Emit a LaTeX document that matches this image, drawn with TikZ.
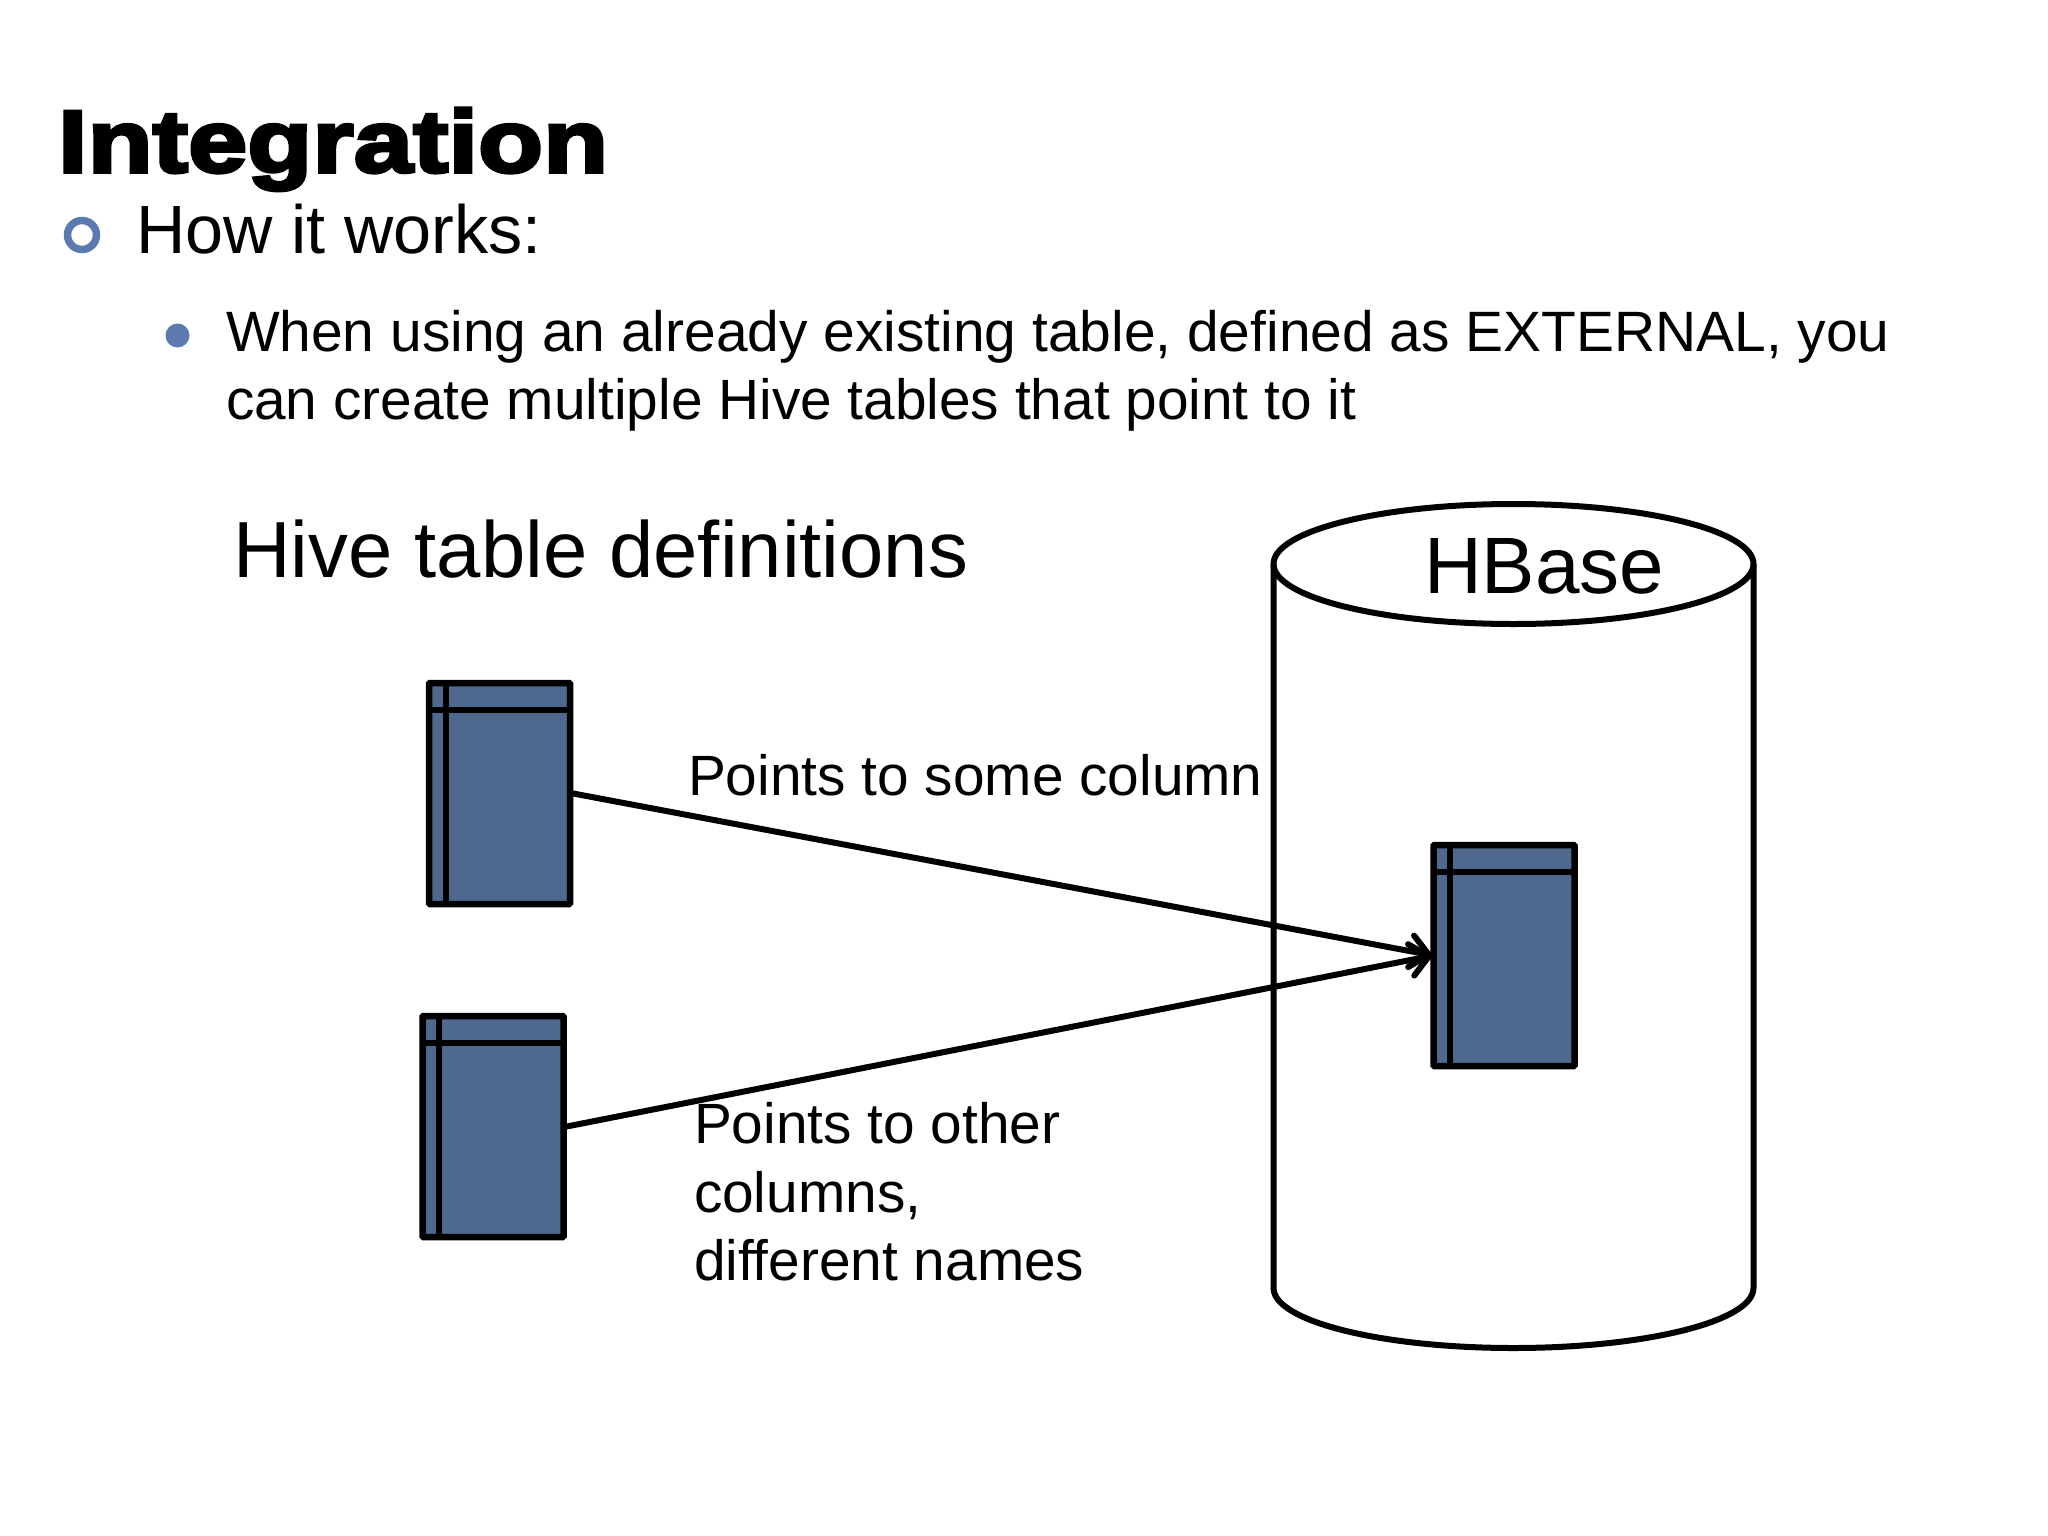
\documentclass[tikz,border=0pt]{standalone}
\usepackage{fontspec}
\usetikzlibrary{arrows.meta}
\setmainfont{Liberation Sans}
\newfontfamily\titlefont[BoldFeatures={FakeBold=4,FakeStretch=1.21}]{Liberation Sans}
\definecolor{tablefill}{HTML}{4E688E}
\definecolor{bulletblue}{HTML}{5B7BB0}
\newcommand{\fs}[1]{\fontsize{#1}{#1}\selectfont}
\tikzset{
  tablebox/.style={draw=black,fill=tablefill,line width=6.5pt,rounded corners=1pt,minimum width=141pt,minimum height=221pt,inner sep=0pt},
  sepline/.style={line width=6pt},
  txt/.style={anchor=base west,inner sep=0pt,outer sep=0pt,text=black},
  link/.style={line width=6pt,-{Straight Barb[length=18pt,width=32pt,line cap=round]},line cap=round},
  cyl/.style={line width=6pt,draw=black}
}
\begin{document}
\begin{tikzpicture}[x=1pt,y=-1pt]
\useasboundingbox (0,0) rectangle (2048,1536);
\fill[white] (0,0) rectangle (2048,1536);
% title and bullets
\node[txt] (title) at (58,172) {\titlefont\bfseries\fs{88}Integration};
\node[circle,draw=bulletblue,line width=7.5pt,fill=white,minimum size=29pt,inner sep=0pt] (b1) at (82,235) {};
\node[txt] (l1) at (136,253) {\fs{68.3}How it works:};
\node[circle,fill=bulletblue,minimum size=24pt,inner sep=0pt] (b2) at (177.5,335.5) {};
\node[txt] (l2) at (226,351.5) {\fs{56.9}When using an already existing table, defined as EXTERNAL, you};
\node[txt] (l3) at (226,419.5) {\fs{56.8}can create multiple Hive tables that point to it};
\node[txt] (hive) at (233.5,577) {\fs{79.6}Hive table definitions};
% cylinder
\draw[cyl,line join=round] (1273.5,564) -- (1273.5,1288) arc[start angle=180,end angle=0,x radius=240,y radius=60] -- (1753.5,564);
\draw[cyl] (1513.5,564) ellipse[x radius=240,y radius=60];
\node[txt] (hbase) at (1424,593.5) {\fs{80}HBase};
% tables
\node[tablebox] (t1) at (499.5,793.5) {};
\draw[sepline] ([xshift=20pt]t1.north west) -- ([xshift=20pt]t1.south west);
\draw[sepline] ([xshift=3pt,yshift=-30pt]t1.north west) -- ([xshift=-3pt,yshift=-30pt]t1.north east);
\node[tablebox] (t2) at (493,1126.5) {};
\draw[sepline] ([xshift=20pt]t2.north west) -- ([xshift=20pt]t2.south west);
\draw[sepline] ([xshift=3pt,yshift=-30pt]t2.north west) -- ([xshift=-3pt,yshift=-30pt]t2.north east);
\node[tablebox] (t3) at (1504,955.5) {};
\draw[sepline] ([xshift=20pt]t3.north west) -- ([xshift=20pt]t3.south west);
\draw[sepline] ([xshift=3pt,yshift=-30pt]t3.north west) -- ([xshift=-3pt,yshift=-30pt]t3.north east);
% connectors
\draw[link] (t1.east) -- ([xshift=3pt]t3.west);
\draw[link] (t2.east) -- ([xshift=3pt]t3.west);
% labels
\node[txt] (p1) at (688,795) {\fs{56.8}Points to some column};
\node[txt] (p2) at (694,1143) {\fs{56.8}Points to other};
\node[txt] (p3) at (694,1212) {\fs{56.8}columns,};
\node[txt] (p4) at (694,1280) {\fs{56.8}different names};
\end{tikzpicture}
\end{document}
